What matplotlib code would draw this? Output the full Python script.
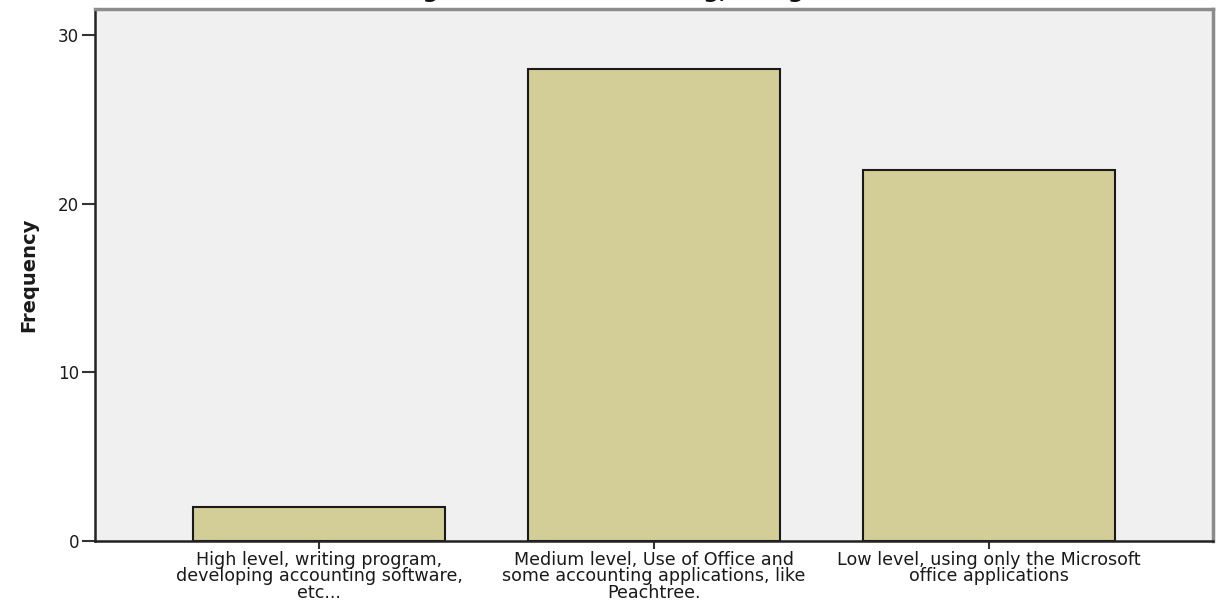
import matplotlib
matplotlib.use('Agg')
import matplotlib.pyplot as plt
import numpy as np

categories = [
    "High level, writing program,\ndeveloping accounting software,\netc...",
    "Medium level, Use of Office and\nsome accounting applications, like\nPeachtree.",
    "Low level, using only the Microsoft\noffice applications",
]
frequency = [2, 28, 22]
y_ticks = [0, 10, 20, 30]
title = "Level of using IT skills in accounting, using software"

plt.rcParams['font.family'] = ['DejaVu Sans']

fig = plt.figure(figsize=(12.16, 6.02), dpi=100)
W, H = 1216.0, 602.0
ax = fig.add_axes([95 / W, (H - 541) / H, (1213 - 95) / W, (541 - 9) / H])
ax.set_facecolor('#f0f0f0')

x = np.arange(len(categories))
ax.bar(x, frequency, width=0.752, color='#d3ce97', edgecolor='#1a1a1a',
       linewidth=1.5, zorder=2)

ax.set_xlim(-0.669, 2.669)
ax.set_ylim(0, 31.54)

ax.set_xticks(x)
ax.set_xticklabels(categories, fontsize=12.6, linespacing=0.9,
                   color='#1a1a1a')
ax.set_yticks(y_ticks)
ax.set_yticklabels([str(v) for v in y_ticks], fontsize=12, color='#1a1a1a')
ax.tick_params(axis='y', length=9.5, width=1.5, color='#333333', pad=2)
ax.tick_params(axis='x', length=6, width=1.5, color='#333333', pad=1)

ax.set_ylabel("Frequency", fontsize=14, fontweight='bold', labelpad=14,
              color='#1a1a1a')

for side in ('left', 'bottom'):
    ax.spines[side].set_color('#222222')
    ax.spines[side].set_linewidth(1.8)
for side in ('top', 'right'):
    ax.spines[side].set_color('#8c8c8c')
    ax.spines[side].set_linewidth(2.5)

# title sits above the canvas, only the descenders show
fig.text(0.487, 1.004, title, ha='center', va='baseline', fontsize=16,
         fontweight='bold', color='#111111')

fig.savefig('out.png', dpi=100)
